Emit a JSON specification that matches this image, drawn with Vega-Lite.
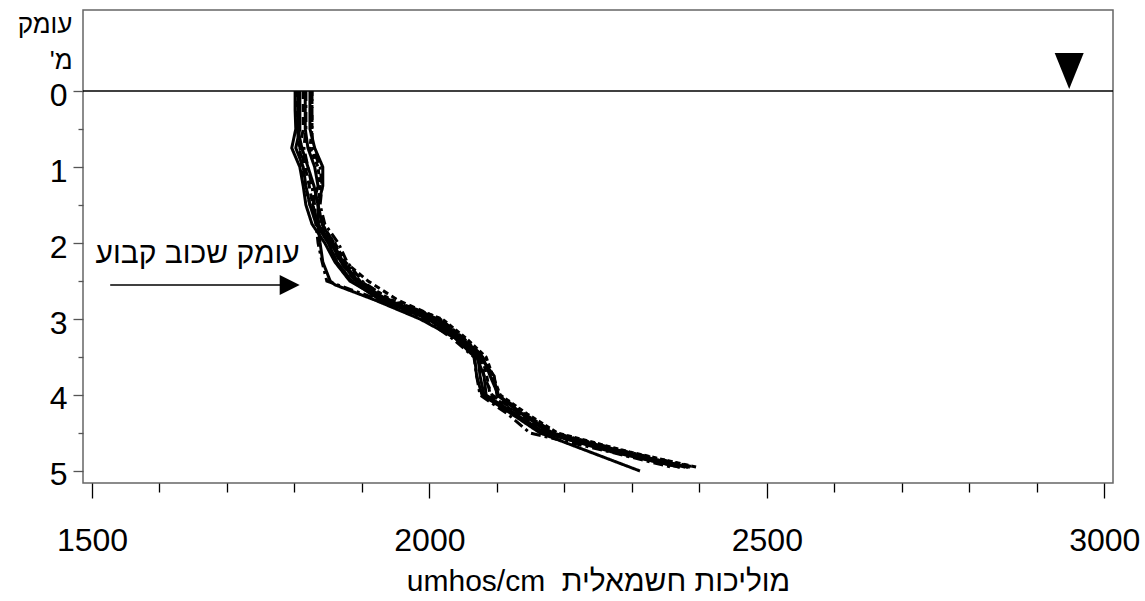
{
  "$schema": "https://vega.github.io/schema/vega-lite/v6.json",
  "width": 1030,
  "height": 473,
  "autosize": "none",
  "padding": {"left": 83, "top": 10, "right": 32, "bottom": 118},
  "background": "white",
  "config": {
    "font": "Liberation Sans, Arial, DejaVu Sans",
    "view": {"stroke": "#666666", "strokeWidth": 1.5}
  },
  "datasets": {
    "profiles": [
      {"id":"L1","d":0,"v":1801},{"id":"L1","d":0.25,"v":1801},{"id":"L1","d":0.5,"v":1802},{"id":"L1","d":0.75,"v":1796},{"id":"L1","d":1,"v":1808},{"id":"L1","d":1.25,"v":1813},{"id":"L1","d":1.5,"v":1817},{"id":"L1","d":1.75,"v":1826},{"id":"L1","d":2,"v":1845},{"id":"L1","d":2.25,"v":1860},{"id":"L1","d":2.5,"v":1882},{"id":"L1","d":2.75,"v":1930},{"id":"L1","d":3,"v":2004},{"id":"L1","d":3.25,"v":2042},{"id":"L1","d":3.5,"v":2072},{"id":"L1","d":3.75,"v":2075},{"id":"L1","d":4,"v":2081},{"id":"L1","d":4.25,"v":2127},{"id":"L1","d":4.5,"v":2171},{"id":"L1","d":4.75,"v":2271},{"id":"L1","d":4.95,"v":2371},
      {"id":"L2","d":0,"v":1813},{"id":"L2","d":0.25,"v":1813},{"id":"L2","d":0.5,"v":1813},{"id":"L2","d":0.75,"v":1808},{"id":"L2","d":1,"v":1816},{"id":"L2","d":1.25,"v":1822},{"id":"L2","d":1.5,"v":1827},{"id":"L2","d":1.75,"v":1835},{"id":"L2","d":2,"v":1853},{"id":"L2","d":2.25,"v":1868},{"id":"L2","d":2.5,"v":1890},{"id":"L2","d":2.75,"v":1934},{"id":"L2","d":3,"v":2008},{"id":"L2","d":3.25,"v":2045},{"id":"L2","d":3.5,"v":2075},{"id":"L2","d":3.75,"v":2081},{"id":"L2","d":4,"v":2093},{"id":"L2","d":4.25,"v":2134},{"id":"L2","d":4.5,"v":2179},{"id":"L2","d":4.75,"v":2282},{"id":"L2","d":4.95,"v":2386},
      {"id":"L3","d":0,"v":1823},{"id":"L3","d":0.25,"v":1823},{"id":"L3","d":0.5,"v":1823},{"id":"L3","d":0.75,"v":1830},{"id":"L3","d":1,"v":1842},{"id":"L3","d":1.25,"v":1842},{"id":"L3","d":1.5,"v":1835},{"id":"L3","d":1.75,"v":1841},{"id":"L3","d":2,"v":1857},{"id":"L3","d":2.25,"v":1872},{"id":"L3","d":2.5,"v":1894},{"id":"L3","d":2.75,"v":1938},{"id":"L3","d":3,"v":2013},{"id":"L3","d":3.25,"v":2048},{"id":"L3","d":3.5,"v":2079},{"id":"L3","d":3.75,"v":2090},{"id":"L3","d":4,"v":2102},{"id":"L3","d":4.25,"v":2138},{"id":"L3","d":4.5,"v":2183},{"id":"L3","d":4.75,"v":2290},{"id":"L3","d":4.95,"v":2383},
      {"id":"L4","d":0,"v":1826},{"id":"L4","d":0.25,"v":1826},{"id":"L4","d":0.5,"v":1826},{"id":"L4","d":0.75,"v":1827},{"id":"L4","d":1,"v":1838},{"id":"L4","d":1.25,"v":1841},{"id":"L4","d":1.5,"v":1838},{"id":"L4","d":1.75,"v":1845},{"id":"L4","d":2,"v":1865},{"id":"L4","d":2.25,"v":1878},{"id":"L4","d":2.5,"v":1900},{"id":"L4","d":2.75,"v":1941},{"id":"L4","d":3,"v":2016},{"id":"L4","d":3.25,"v":2050},{"id":"L4","d":3.5,"v":2081},{"id":"L4","d":3.75,"v":2091},{"id":"L4","d":4,"v":2103},{"id":"L4","d":4.25,"v":2141},{"id":"L4","d":4.5,"v":2186},{"id":"L4","d":4.75,"v":2294},{"id":"L4","d":4.95,"v":2393},
      {"id":"L5","d":0,"v":1808},{"id":"L5","d":0.25,"v":1808},{"id":"L5","d":0.5,"v":1808},{"id":"L5","d":0.75,"v":1802},{"id":"L5","d":1,"v":1813},{"id":"L5","d":1.25,"v":1817},{"id":"L5","d":1.5,"v":1823},{"id":"L5","d":1.75,"v":1832},{"id":"L5","d":2,"v":1850},{"id":"L5","d":2.25,"v":1863},{"id":"L5","d":2.5,"v":1885},{"id":"L5","d":2.75,"v":1927},{"id":"L5","d":3,"v":1998},{"id":"L5","d":3.25,"v":2038},{"id":"L5","d":3.5,"v":2067},{"id":"L5","d":3.75,"v":2070},{"id":"L5","d":4,"v":2078},{"id":"L5","d":4.25,"v":2122},{"id":"L5","d":4.5,"v":2164},{"id":"L5","d":4.75,"v":2238},{"id":"L5","d":5,"v":2312},
      {"id":"L6","d":0,"v":1804},{"id":"L6","d":0.25,"v":1804},{"id":"L6","d":0.5,"v":1804},{"id":"L6","d":0.75,"v":1808},{"id":"L6","d":1,"v":1811},{"id":"L6","d":1.25,"v":1816},{"id":"L6","d":1.5,"v":1823},{"id":"L6","d":1.75,"v":1838},{"id":"L6","d":2,"v":1860},{"id":"L6","d":2.25,"v":1875},{"id":"L6","d":2.5,"v":1909},{"id":"L6","d":2.75,"v":1953},{"id":"L6","d":3,"v":2016},{"id":"L6","d":3.25,"v":2050},{"id":"L6","d":3.5,"v":2078},{"id":"L6","d":3.75,"v":2085},{"id":"L6","d":4,"v":2090},{"id":"L6","d":4.25,"v":2131},{"id":"L6","d":4.5,"v":2175},{"id":"L6","d":4.75,"v":2280},{"id":"L6","d":4.95,"v":2383},
      {"id":"L7","d":0,"v":1817},{"id":"L7","d":0.25,"v":1817},{"id":"L7","d":0.5,"v":1817},{"id":"L7","d":0.75,"v":1814},{"id":"L7","d":1,"v":1820},{"id":"L7","d":1.25,"v":1826},{"id":"L7","d":1.5,"v":1830},{"id":"L7","d":1.75,"v":1832},{"id":"L7","d":2,"v":1835},{"id":"L7","d":2.25,"v":1841},{"id":"L7","d":2.5,"v":1848},{"id":"L7","d":2.75,"v":1927},{"id":"L7","d":3,"v":1993},{"id":"L7","d":3.25,"v":2033},{"id":"L7","d":3.5,"v":2066},{"id":"L7","d":3.75,"v":2070},{"id":"L7","d":4,"v":2075},{"id":"L7","d":4.25,"v":2116},{"id":"L7","d":4.5,"v":2149},{"id":"L7","d":4.75,"v":2268},{"id":"L7","d":4.95,"v":2359},
      {"id":"L8","d":0,"v":1805},{"id":"L8","d":0.25,"v":1805},{"id":"L8","d":0.5,"v":1805},{"id":"L8","d":0.75,"v":1811},{"id":"L8","d":1,"v":1820},{"id":"L8","d":1.25,"v":1829},{"id":"L8","d":1.5,"v":1835},{"id":"L8","d":1.75,"v":1835},{"id":"L8","d":2,"v":1838},{"id":"L8","d":2.25,"v":1842},{"id":"L8","d":2.5,"v":1853},{"id":"L8","d":2.55,"v":1860},{"id":"L8","d":2.75,"v":1919},{"id":"L8","d":3,"v":1986},{"id":"L8","d":3.25,"v":2038},{"id":"L8","d":3.5,"v":2070},{"id":"L8","d":3.75,"v":2081},{"id":"L8","d":4,"v":2084},{"id":"L8","d":4.25,"v":2127},{"id":"L8","d":4.5,"v":2171},{"id":"L8","d":4.75,"v":2275},{"id":"L8","d":4.95,"v":2371},
      {"id":"L9","d":0,"v":1826},{"id":"L9","d":0.25,"v":1826},{"id":"L9","d":0.5,"v":1826},{"id":"L9","d":0.75,"v":1823},{"id":"L9","d":1,"v":1835},{"id":"L9","d":1.25,"v":1838},{"id":"L9","d":1.5,"v":1835},{"id":"L9","d":1.75,"v":1841},{"id":"L9","d":2,"v":1859},{"id":"L9","d":2.25,"v":1875},{"id":"L9","d":2.5,"v":1897},{"id":"L9","d":2.75,"v":1944},{"id":"L9","d":3,"v":2019},{"id":"L9","d":3.25,"v":2054},{"id":"L9","d":3.5,"v":2084},{"id":"L9","d":3.75,"v":2094},{"id":"L9","d":4,"v":2105},{"id":"L9","d":4.25,"v":2145},{"id":"L9","d":4.5,"v":2190},{"id":"L9","d":4.75,"v":2297},{"id":"L9","d":4.95,"v":2396},
      {"id":"L10","d":0,"v":1816},{"id":"L10","d":0.25,"v":1816},{"id":"L10","d":0.5,"v":1816},{"id":"L10","d":0.75,"v":1820},{"id":"L10","d":1,"v":1830},{"id":"L10","d":1.25,"v":1835},{"id":"L10","d":1.5,"v":1827},{"id":"L10","d":1.75,"v":1835},{"id":"L10","d":2,"v":1854},{"id":"L10","d":2.25,"v":1869},{"id":"L10","d":2.5,"v":1891},{"id":"L10","d":2.75,"v":1935},{"id":"L10","d":3,"v":2010},{"id":"L10","d":3.25,"v":2045},{"id":"L10","d":3.5,"v":2075},{"id":"L10","d":3.75,"v":2096},{"id":"L10","d":4,"v":2100},{"id":"L10","d":4.25,"v":2137},{"id":"L10","d":4.5,"v":2179},{"id":"L10","d":4.75,"v":2285},{"id":"L10","d":4.95,"v":2379}
    ]
  },
  "layer": [
    {
      "data": {"values": [{"d": 0}]},
      "mark": {"type": "rule", "color": "black", "strokeWidth": 1.3},
      "encoding": {
        "y": {"field": "d", "type": "quantitative",
          "scale": {"domain": [-1.066, 5.158], "reverse": true, "nice": false, "zero": false},
          "axis": {
            "values": [0, 0.5, 1, 1.5, 2, 2.5, 3, 3.5, 4, 4.5, 5],
            "labelExpr": "datum.value % 1 === 0 ? '' + datum.value : ''",
            "tickSize": {"condition": {"test": "datum.value % 1 === 0", "value": 10}, "value": 5},
            "tickColor": "#555555",
            "tickWidth": 1.3,
            "labelFontSize": 32,
            "labelColor": "black",
            "labelPadding": 6,
            "labelOffset": 4,
            "domain": false,
            "grid": false,
            "title": ["עומק", "'מ"],
            "titleAngle": 0,
            "titleAlign": "right",
            "titleBaseline": "alphabetic",
            "titleX": -11,
            "titleY": 22,
            "titleLineHeight": 36,
            "titleFontSize": 26,
            "titleFontWeight": "normal",
            "titleColor": "black"
          }
        }
      }
    },
    {
      "data": {"name": "profiles"},
      "mark": {"type": "line", "color": "black", "strokeWidth": 3, "strokeCap": "butt"},
      "encoding": {
        "x": {"field": "v", "type": "quantitative",
          "scale": {"domain": [1486.7, 3012.9], "nice": false, "zero": false},
          "axis": {
            "values": [1500,1600,1700,1800,1900,2000,2100,2200,2300,2400,2500,2600,2700,2800,2900,3000],
            "labelExpr": "datum.value % 500 === 0 ? '' + datum.value : ''",
            "tickSize": {"condition": {"test": "datum.value % 500 === 0", "value": 15}, "value": 9},
            "tickColor": "black",
            "tickWidth": 1.3,
            "labelFontSize": 32,
            "labelColor": "black",
            "labelPadding": 27,
            "domain": false,
            "grid": false,
            "title": "umhos/cm \u00a0מוליכות חשמאלית",
            "titleFontSize": 30,
            "titleFontWeight": "normal",
            "titleColor": "black",
            "titlePadding": 10
          }
        },
        "y": {"field": "d", "type": "quantitative"},
        "detail": {"field": "id"},
        "order": {"field": "d", "type": "quantitative"},
        "strokeDash": {"field": "id", "type": "nominal", "legend": null,
          "scale": {"domain": ["L1","L2","L3","L4","L5","L6","L7","L8","L9","L10"],
                    "range": [[1,0],[8,5],[1,0],[10,4,3,4],[1,0],[6,4],[10,4,3,4],[1,0],[5,3],[1,0]]}}
      }
    },
    {
      "data": {"values": [{"x1": 1527, "x2": 1779, "d": 2.553}]},
      "mark": {"type": "rule", "color": "black", "strokeWidth": 1.5},
      "encoding": {
        "x": {"field": "x1", "type": "quantitative"},
        "x2": {"field": "x2"},
        "y": {"field": "d", "type": "quantitative"}
      }
    },
    {
      "data": {"values": [{"v": 1793, "d": 2.553}]},
      "mark": {"type": "point", "shape": "M-1,-1L1,0L-1,1Z", "size": 400, "filled": true, "color": "black", "opacity": 1},
      "encoding": {
        "x": {"field": "v", "type": "quantitative"},
        "y": {"field": "d", "type": "quantitative"}
      }
    },
    {
      "data": {"values": [{"v": 1808, "d": 2.263, "t": "עומק שכוב קבוע"}]},
      "mark": {"type": "text", "align": "right", "baseline": "alphabetic", "fontSize": 30, "color": "black"},
      "encoding": {
        "x": {"field": "v", "type": "quantitative"},
        "y": {"field": "d", "type": "quantitative"},
        "text": {"field": "t"}
      }
    },
    {
      "data": {"values": [{"v": 2948, "d": -0.263}]},
      "mark": {"type": "point", "shape": "M-1,-1.24L1,-1.24L0,1.24Z", "size": 841, "filled": true, "color": "black", "opacity": 1},
      "encoding": {
        "x": {"field": "v", "type": "quantitative"},
        "y": {"field": "d", "type": "quantitative"}
      }
    }
  ]
}
